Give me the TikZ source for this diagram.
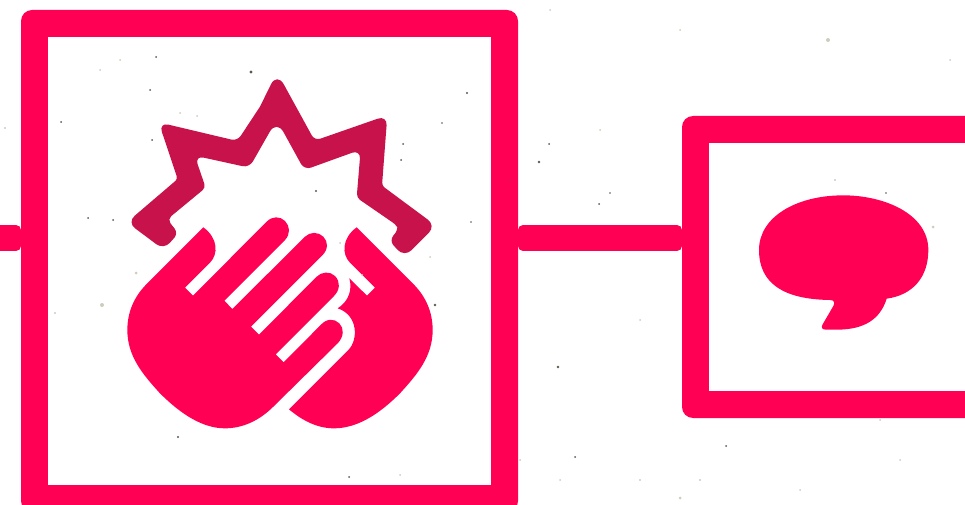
\documentclass[tikz,border=0pt]{standalone}
\definecolor{hot}{RGB}{255,0,85}
\definecolor{burst}{RGB}{200,18,76}
\definecolor{speck}{RGB}{90,90,80}
\definecolor{specklight}{RGB}{205,205,190}
\tikzset{
  outerbox/.style={fill=hot,draw=none,rounded corners=11pt,inner sep=0pt,outer sep=0pt},
  innerbox/.style={fill=white,draw=none,inner sep=0pt,outer sep=0pt},
  connbody/.style={hot,line width=26pt,shorten >=5pt,shorten <=5pt},
  connend/.style={hot,line width=16pt},
  conncorner/.style={hot,line width=10pt,line cap=round,shorten >=5pt,shorten <=5pt},
  zoomA/.style={xshift=110pt,yshift=-70pt,x=0.33333pt,y=-0.33333pt},
  zoomB/.style={xshift=110pt,yshift=-210pt,x=0.33333pt,y=-0.33333pt},
  zoomC/.style={xshift=740pt,yshift=-180pt,x=0.33333pt,y=-0.33333pt}
}
\begin{document}
\begin{tikzpicture}[x=1pt,y=-1pt]
\useasboundingbox (0,0) rectangle (965,505);
\clip (0,0) rectangle (965,505);
\fill[white] (0,0) rectangle (965,505);
% boxes
\node[outerbox,minimum width=497pt,minimum height=502pt] (aout) at (269.5,261) {};
\node[innerbox,minimum width=443pt,minimum height=448pt] (ain) at (269.5,261) {};
\node[outerbox,minimum width=500pt,minimum height=302pt] (bout) at (932,267) {};
\node[innerbox,minimum width=446pt,minimum height=248pt] (bin) at (932,267) {};
% connectors
\coordinate (lev) at (300,238);
\coordinate (levtop) at (300,230);
\coordinate (levbot) at (300,246);
\coordinate (free) at (-10,238);
\draw[connbody] (free) -- (aout.west |- lev);
\draw[connend] (free) -- (aout.west |- lev);
\draw[conncorner] (free |- levtop) -- (aout.west |- levtop);
\draw[conncorner] (free |- levbot) -- (aout.west |- levbot);
\draw[connbody] (aout.east |- lev) -- (bout.west |- lev);
\draw[connend] (aout.east |- lev) -- (bout.west |- lev);
\draw[conncorner] (aout.east |- levtop) -- (bout.west |- levtop);
\draw[conncorner] (aout.east |- levbot) -- (bout.west |- levbot);
% burst
\begin{scope}[zoomA]
\fill[burst,even odd rule]
  [rounded corners=14pt] (450,110) -- (501,6)
  [rounded corners=6pt] -- (614,212)
  [rounded corners=10pt] -- (832,136)
  [rounded corners=3pt] -- (816,347)
  [rounded corners=10pt] -- (978,467)
  [rounded corners=10pt] -- (883,562)
  [rounded corners=6pt] -- (838,512)
  [rounded corners=5pt] -- (865,478)
  [rounded corners=5pt] -- (862,467)
  [rounded corners=4pt] -- (740,383)
  [rounded corners=9pt] -- (752,239)
  [rounded corners=7pt] -- (583,300)
  [rounded corners=14pt] -- (500,149)
  [rounded corners=7pt] -- (418,293)
  [rounded corners=9pt] -- (254,257)
  [rounded corners=4pt] -- (287,353)
  [rounded corners=5pt] -- (172,448)
  [rounded corners=6pt] -- (205,490)
  [rounded corners=9pt] -- (161,539)
  [rounded corners=10pt] -- (51,457)
  [rounded corners=3pt] -- (203,327)
  [rounded corners=10pt] -- (146,157)
  [rounded corners=6pt] -- (382,213)
  [sharp corners] -- (450,110) -- cycle;
\end{scope}
% hands
\begin{scope}[zoomB]
\fill[hot] (280,52) -- (110,222)
  .. controls (70,262) and (52,310) .. (52,360)
  .. controls (52,440) and (100,495) .. (150,550)
  .. controls (215,615) and (280,655) .. (345,655)
  .. controls (400,655) and (450,630) .. (490,590)
  -- (683,400)
  .. controls (702,380) and (703,355) .. (688,340)
  .. controls (673,325) and (650,325) .. (632,345)
  -- (521,457) -- (497,433)
  -- (672,258)
  .. controls (690,240) and (692,215) .. (675,198)
  .. controls (660,183) and (635,185) .. (620,200)
  -- (447,374) -- (423,350)
  -- (637,136)
  .. controls (655,118) and (655,95) .. (640,80)
  .. controls (625,65) and (600,65) .. (585,80)
  -- (367,297) -- (343,272)
  -- (525,90)
  .. controls (542,72) and (540,48) .. (525,33)
  .. controls (510,18) and (487,18) .. (470,35)
  -- (249,257) -- (225,233)
  -- (300,158)
  .. controls (325,133) and (325,85) .. (280,52) -- cycle;
\fill[hot] (740,52) -- (910,222)
  .. controls (950,262) and (968,310) .. (968,360)
  .. controls (968,440) and (920,495) .. (870,550)
  .. controls (805,615) and (740,655) .. (672,655)
  .. controls (620,655) and (575,630) .. (537,598)
  -- (715,420)
  .. controls (745,390) and (745,315) .. (683,295)
  .. controls (715,275) and (728,240) .. (718,205)
  -- (771,257) -- (795,233)
  -- (720,158)
  .. controls (695,133) and (695,85) .. (740,52) -- cycle;
\end{scope}
% speech bubble
\begin{scope}[zoomC]
\fill[hot] (310,46)
  .. controls (170,46) and (57,110) .. (57,210)
  .. controls (57,310) and (130,358) .. (270,360)
  .. controls (283,360) and (285,368) .. (280,378)
  -- (248,433)
  .. controls (242,443) and (247,449) .. (258,449)
  -- (290,449)
  .. controls (370,449) and (420,420) .. (440,356)
  .. controls (520,345) and (565,290) .. (565,210)
  .. controls (565,100) and (430,46) .. (310,46) -- cycle;
\end{scope}
% specks
\foreach \px/\py/\pr in {150/90/1,152/140/1,251/72/1.6,316/191/1.2,403/144/1,401/160/1,442/123/.8,113/220/1,178/437/1.1,435/305/1.3,549/144/1,539/162/1.3,599/204/1,610/193/.8,886/193/.9,61/122/1,156/57/1,467/93/1.2,558/367/1.4,726/446/1,575/457/1,349/477/1,88/218/1,471/222/.8,55/313/.7,640/480/.7,700/480/.6,510/180/.7,5/128/.6,835/180/.6}
  \fill[speck] (\px,\py) circle[radius=\pr];
\foreach \px/\py/\pr in {136/273/1.5,102/305/2,828/40/2,933/227/1.5,180/113/1,197/116/1,340/243/1,362/275/1,430/257/1,400/475/1,680/498/1.5,800/490/1,520/460/1,560/480/1,950/60/1,680/30/1,550/10/1,120/60/1,100/70/1,600/130/1,640/320/1,880/420/1,900/460/1}
  \fill[specklight] (\px,\py) circle[radius=\pr];
\end{tikzpicture}
\end{document}
